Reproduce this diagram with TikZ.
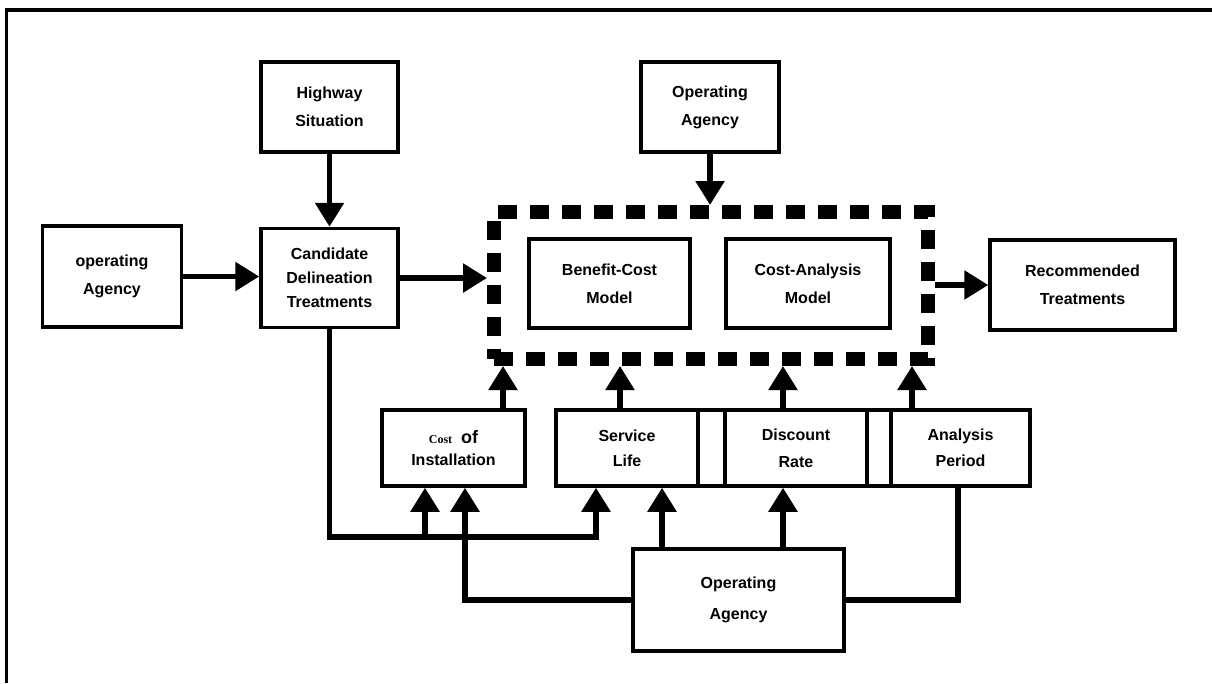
\documentclass[tikz,border=0pt]{standalone}
\usepackage{fontspec}
\setmainfont{Liberation Sans}
\newfontfamily\serifcost{Liberation Serif}
\usetikzlibrary{arrows.meta}
\begin{document}
\begin{tikzpicture}[x=1pt,y=-1pt,
  box/.style={draw, line width=3.5pt, rectangle, inner sep=0pt, align=center,
    font=\bfseries\fontsize{16}{28}\selectfont},
  conn/.style={line width=5.5pt, line join=miter},
  arr/.style={conn, -{Triangle[length=24pt,width=28pt]}},
  dashbox/.style={draw, line width=14pt, dash pattern=on 19pt off 13pt, rectangle, inner sep=0pt},
]
\useasboundingbox (0,0) rectangle (1212,683);
% frame
\draw[line width=4pt] (5,10) -- (1212,10);
\draw[line width=3pt] (6,8) -- (6,683);

% top row
\node[box, minimum width=137pt, minimum height=90pt] (hw) at (329.5,107) {Highway\\Situation};
\node[box, minimum width=139pt, minimum height=101pt] (opa) at (112,276.5) {operating\\Agency};
\node[box, minimum width=137pt, minimum height=99pt, font=\bfseries\fontsize{16}{24}\selectfont] (cand) at (329.5,278) {Candidate\\Delineation\\Treatments};
\node[box, minimum width=138pt, minimum height=90pt] (opt) at (710,107) {Operating\\Agency};

% model group
\node[dashbox, minimum width=434pt, minimum height=147pt] (mdl) at (711,285.5) {};
\node[box, minimum width=161pt, minimum height=89pt] (bc) at (609.5,283.5) {Benefit-Cost\\Model};
\node[box, minimum width=164pt, minimum height=89pt] (ca) at (808,283.5) {Cost-Analysis\\Model};
\node[box, minimum width=185pt, minimum height=90pt] (rec) at (1082.5,285) {Recommended\\Treatments};

% inputs row
\node[box, minimum width=143pt, minimum height=76pt, font=\bfseries\fontsize{16}{22}\selectfont] (cost) at (453.5,448) {{\serifcost\fontsize{12}{14}\selectfont Cost}\ \ {\fontsize{18}{20}\selectfont of}\\Installation};
\node[box, minimum width=142pt, minimum height=76pt, font=\bfseries\fontsize{16}{25}\selectfont] (sl) at (627,448) {Service\\Life};
\node[box, minimum width=27pt, minimum height=76pt] (sp1) at (711.5,448) {};
\node[box, minimum width=142pt, minimum height=76pt, font=\bfseries\fontsize{16}{27}\selectfont] (dr) at (796,448) {Discount\\Rate};
\node[box, minimum width=24pt, minimum height=76pt] (sp2) at (879,448) {};
\node[box, minimum width=139pt, minimum height=76pt, font=\bfseries\fontsize{16}{26}\selectfont] (ap) at (960.5,448) {Analysis\\Period};

% bottom agency
\node[box, minimum width=211pt, minimum height=102pt, font=\bfseries\fontsize{16}{31}\selectfont] (opb) at (738.5,600) {Operating\\Agency};

% connectors top
\draw[arr] (hw) -- (cand);
\draw[arr] (opa) -- (opa -| cand.west);
\draw[arr] (cand) -- (cand -| mdl.west);
\draw[arr] (opt) -- (opt |- mdl.north);
\draw[arr] (mdl.east |- rec) -- (rec);

% inputs into model
\draw[arr] (cost.north -| 503,0) -- (mdl.south -| 503,0);
\draw[arr] (sl.north -| 620,0) -- (mdl.south -| 620,0);
\draw[arr] (dr.north -| 783,0) -- (mdl.south -| 783,0);
\draw[arr] (ap.north -| 912,0) -- (mdl.south -| 912,0);

% lower connectors
\coordinate (j1) at (596,537);
\coordinate (j2) at (425,537);
\coordinate (j3) at (465,600);
\draw[arr] (cand.south) |- (j1) -- (j1 |- sl.south);
\draw[arr] (j2) -- (j2 |- cost.south);
\draw[arr] (opb.west) -| (j3 |- cost.south);
\draw[arr] (opb.north -| 662,0) -- (sl.south -| 662,0);
\draw[arr] (opb.north -| 783,0) -- (dr.south -| 783,0);
\draw[conn] (opb.east) -| (ap.south -| 958,0);
\end{tikzpicture}
\end{document}
